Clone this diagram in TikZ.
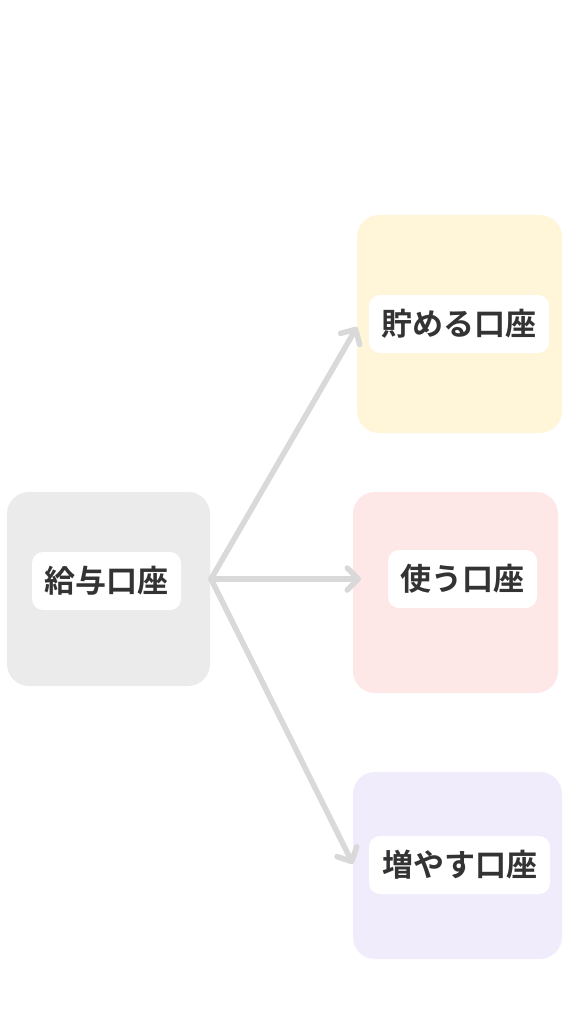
\documentclass[tikz,border=0pt]{standalone}
\usepackage{fontspec}
\newfontfamily\jp{Noto Sans CJK JP}[BoldFont={* Bold}]
\usetikzlibrary{arrows.meta}
\definecolor{grayfill}{HTML}{EBEBEB}
\definecolor{yellowfill}{HTML}{FFF6D9}
\definecolor{pinkfill}{HTML}{FDE7E7}
\definecolor{lavfill}{HTML}{F1ECFC}
\definecolor{arrowgray}{HTML}{D9D9D9}
\definecolor{txt}{HTML}{333333}
\tikzset{
  panel/.style={rounded corners=22pt, inner sep=0pt, draw=none},
  tag/.style={fill=white, rounded corners=11pt, inner sep=0pt, minimum height=58pt,
    text=txt, font=\jp\bfseries\fontsize{31pt}{34pt}\selectfont},
  flow/.style={draw=arrowgray, line width=5.5pt, line cap=round, line join=round,
    -{Straight Barb[length=11pt, width=22pt, line width=5.5pt, round]}}
}
\begin{document}
\begin{tikzpicture}[x=1pt, y=-1pt]
\useasboundingbox[fill=white] (0,0) rectangle (576,1024);
% panels
\node[panel, fill=grayfill, minimum width=203pt, minimum height=194pt] (src) at (108.5,589) {};
\node[panel, fill=yellowfill, minimum width=205pt, minimum height=218pt] (save) at (459.5,324) {};
\node[panel, fill=pinkfill, minimum width=205pt, minimum height=201pt] (use) at (455.5,592.5) {};
\node[panel, fill=lavfill, minimum width=209pt, minimum height=187pt] (grow) at (457.5,865.5) {};
% labels
\node[tag, minimum width=149pt] (srcl) at (106.5,581) {給与口座};
\node[tag, minimum width=180pt] (savel) at (459,324) {貯める口座};
\node[tag, minimum width=149pt] (usel) at (462.5,579) {使う口座};
\node[tag, minimum width=181pt] (growl) at (459.5,865) {増やす口座};
% connectors
\coordinate (hub) at (211,579);
\coordinate (saveend) at (357,327);
\coordinate (useend) at (361,579);
\coordinate (growend) at (353,864);
\draw[flow] (hub) -- (saveend);
\draw[flow] (hub) -- (useend);
\draw[flow] (hub) -- (growend);
\end{tikzpicture}
\end{document}
